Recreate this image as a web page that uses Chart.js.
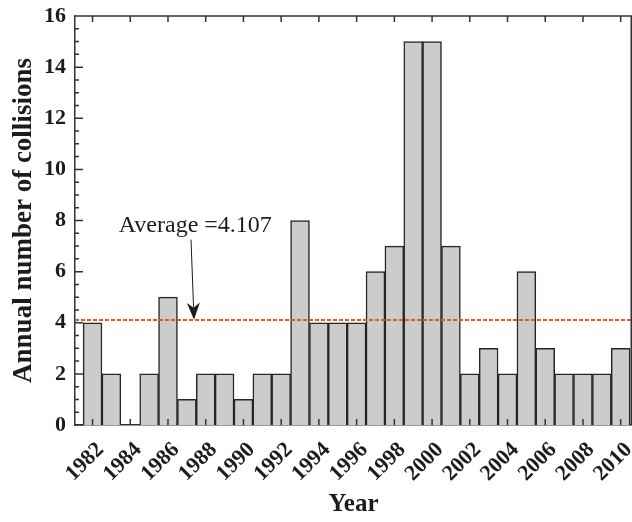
<!DOCTYPE html>
<html>
<head>
<meta charset="utf-8">
<script src="https://cdn.jsdelivr.net/npm/chart.js@4/dist/chart.umd.min.js"></script>
<style>
  html, body { margin: 0; padding: 0; background: #fff; }
</style>
</head>
<body>
<canvas id="collisionChart" width="632" height="522"></canvas>
<script>
// --- data ---
const years = [1982, 1983, 1984, 1985, 1986, 1987, 1988, 1989, 1990, 1991,
               1992, 1993, 1994, 1995, 1996, 1997, 1998, 1999, 2000, 2001,
               2002, 2003, 2004, 2005, 2006, 2007, 2008, 2009, 2010];
const collisions = [4, 2, 0, 2, 5, 1, 2, 2, 1, 2,
                    2, 8, 4, 4, 4, 6, 7, 15, 15, 7,
                    2, 3, 2, 6, 3, 2, 2, 2, 3];
const averageCollisions = 4.107;
const averageLabel = "Average =4.107";
const yearTicks = [1982, 1984, 1986, 1988, 1990, 1992, 1994, 1996,
                   1998, 2000, 2002, 2004, 2006, 2008, 2010];
const countTicks = [0, 2, 4, 6, 8, 10, 12, 14, 16];

// annotation anchor points, in data units (year, count)
const labelAt = { x: 1987.45, y: 7.8 };
const arrowFrom = { x: 1987.22, y: 7.25 };
const arrowTo = { x: 1987.38, y: 4.12 };

const serif = '"Liberation Serif", "Times New Roman", Times, serif';
const ink = "#1c1c1c";

// --- extra drawing: average line, inward ticks, frame, arrow ---
const decorations = {
    id: "decorations",
    afterDatasetsDraw(chart) {
        const { ctx, chartArea: a, scales: { x, y } } = chart;
        ctx.save();

        // average line
        const ya = y.getPixelForValue(averageCollisions);
        ctx.strokeStyle = "#e4581f";
        ctx.lineWidth = 2;
        ctx.setLineDash([4, 2]);
        ctx.beginPath();
        ctx.moveTo(a.left, ya);
        ctx.lineTo(a.right, ya);
        ctx.stroke();
        ctx.setLineDash([]);

        // ticks pointing inward + top/right frame
        ctx.strokeStyle = "#333";
        ctx.lineWidth = 1.5;
        ctx.beginPath();
        yearTicks.forEach(v => {
            const px = x.getPixelForValue(v);
            ctx.moveTo(px, a.bottom);
            ctx.lineTo(px, a.bottom - 6);
            ctx.moveTo(px, a.top);
            ctx.lineTo(px, a.top + 6);
        });
        for (let v = y.min; v <= y.max; v += 0.5) {
            const py = y.getPixelForValue(v);
            const len = v % 2 === 0 ? 8 : 4;
            ctx.moveTo(a.left, py);
            ctx.lineTo(a.left + len, py);
        }
        ctx.moveTo(a.left, a.top);
        ctx.lineTo(a.right - 0.75, a.top);
        ctx.lineTo(a.right - 0.75, a.bottom);
        ctx.stroke();

        // annotation text
        ctx.fillStyle = ink;
        ctx.font = "24px " + serif;
        ctx.textAlign = "center";
        ctx.textBaseline = "middle";
        ctx.fillText(averageLabel, x.getPixelForValue(labelAt.x), y.getPixelForValue(labelAt.y));

        // arrow
        const x0 = x.getPixelForValue(arrowFrom.x), y0 = y.getPixelForValue(arrowFrom.y);
        const x1 = x.getPixelForValue(arrowTo.x), y1 = y.getPixelForValue(arrowTo.y);
        const ang = Math.atan2(y1 - y0, x1 - x0);
        const headLen = 17, halfW = 6.5, notch = 5;
        const ux = Math.cos(ang), uy = Math.sin(ang);
        const bx = x1 - ux * headLen, by = y1 - uy * headLen;
        ctx.strokeStyle = ink;
        ctx.lineWidth = 1;
        ctx.beginPath();
        ctx.moveTo(x0, y0);
        ctx.lineTo(bx + ux * notch, by + uy * notch);
        ctx.stroke();
        ctx.beginPath();
        ctx.moveTo(x1, y1);
        ctx.lineTo(bx - uy * halfW, by + ux * halfW);
        ctx.lineTo(bx + ux * notch, by + uy * notch);
        ctx.lineTo(bx + uy * halfW, by - ux * halfW);
        ctx.closePath();
        ctx.fill();

        ctx.restore();
    }
};

// --- Chart.js setup ---
const isEmpty = c => c.raw && c.raw.y === 0;
const ctx = document.getElementById("collisionChart").getContext("2d");
const collisionChart = new Chart(ctx, {
    type: "bar",
    data: {
        datasets: [{
            label: "Annual number of collisions",
            data: years.map((yr, i) => ({ x: yr, y: collisions[i] })),
            backgroundColor: c => (isEmpty(c) ? "rgba(0,0,0,0)" : "#cccccc"),
            borderColor: "#262626",
            borderWidth: c => (isEmpty(c) ? 0 : 1.5),
            barPercentage: 1,
            categoryPercentage: 1
        }]
    },
    options: {
        responsive: false,
        animation: false,
        layout: { padding: { top: 16, right: 0, left: 0, bottom: 0 } },
        plugins: { legend: { display: false }, tooltip: { enabled: false } },
        scales: {
            x: {
                type: "linear",
                offset: false,
                min: 1981.07,
                max: 2010.6,
                grid: { display: false },
                border: { display: true, color: "#333", width: 1.5 },
                afterBuildTicks: s => { s.ticks = yearTicks.map(v => ({ value: v })); },
                afterFit: s => { s.height = 97; s.paddingLeft = 0; s.paddingRight = 0; },
                ticks: {
                    autoSkip: false,
                    minRotation: 45,
                    maxRotation: 45,
                    padding: 4,
                    labelOffset: 8,
                    color: ink,
                    font: { family: serif, size: 22, weight: "bold" },
                    callback: v => String(v)
                },
                title: {
                    display: true,
                    text: "Year",
                    color: ink,
                    padding: { top: 0, bottom: 2 },
                    font: { family: serif, size: 25, weight: "bold" }
                }
            },
            y: {
                min: 0,
                max: 16,
                grid: { display: false, drawTicks: false },
                border: { display: true, color: "#333", width: 1.5 },
                afterBuildTicks: s => { s.ticks = countTicks.map(v => ({ value: v })); },
                afterFit: s => { s.width = 75; s.paddingTop = 0; s.paddingBottom = 0; },
                ticks: {
                    padding: 9,
                    color: ink,
                    font: { family: serif, size: 22, weight: "bold" }
                },
                title: {
                    display: true,
                    text: "Annual number of collisions",
                    color: ink,
                    padding: { top: 8, bottom: 0 },
                    font: { family: serif, size: 27, weight: "bold" }
                }
            }
        }
    },
    plugins: [decorations]
});
</script>
</body>
</html>
